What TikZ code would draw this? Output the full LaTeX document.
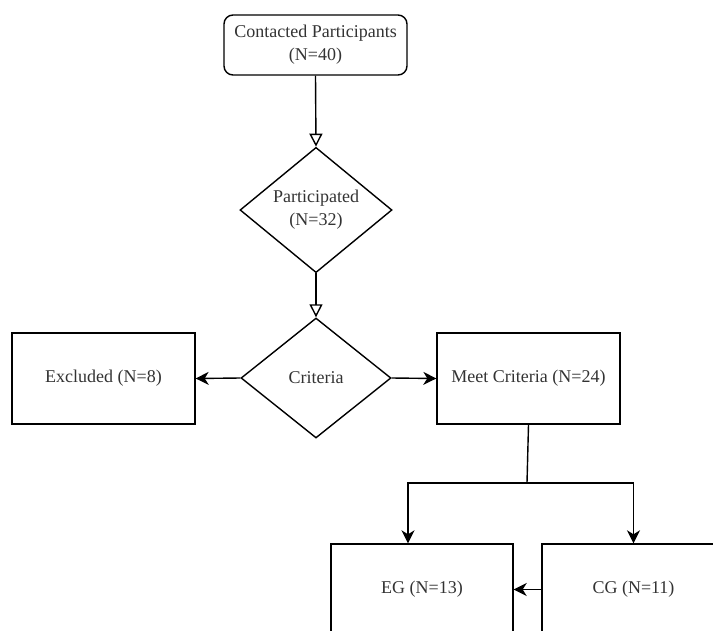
\documentclass[tikz,border=0pt]{standalone}
\usepackage{fontspec}
\setmainfont{Liberation Serif}
\usetikzlibrary{shapes.geometric,arrows.meta}

\begin{document}
\begin{tikzpicture}[x=1pt, y=-1pt, line width=1.4pt,
	every node/.style={font=\fontsize{18}{23}\selectfont, text=black!80, align=center},
	box/.style={draw, minimum width=183pt, minimum height=91pt, inner sep=0pt},
	decision/.style={draw, diamond, inner sep=0pt, minimum width=152pt, minimum height=120pt},
	openhead/.style={-{Triangle[open, width=13pt, length=13pt]}},
	solidhead/.style={-{Stealth[width=13pt, length=13pt, inset=4pt]}}]

	\useasboundingbox (0,0) rectangle (713,630);

	% Nodes
	\node[draw, rounded corners=9pt, minimum width=183pt, minimum height=60pt, inner sep=0pt] (contacted) at (315.5,45) {Contacted Participants\\(N=40)};
	\node[decision] (participated) at (316,210) {Participated\\(N=32)};
	\node[decision, minimum width=150pt] (criteria) at (316,378) {Criteria};
	\node[box] (excluded) at (103.5,378.5) {Excluded (N=8)};
	\node[box] (meet) at (528.5,378.5) {Meet Criteria (N=24)};
	\node[box, minimum width=182pt] (eg) at (422,589.5) {EG (N=13)};
	\node[box] (cg) at (633.5,589.5) {CG (N=11)};
	\coordinate (split) at (527,483);

	% Connectors
	\draw[openhead] (contacted.south) -- (participated.north);
	\draw[openhead] (participated.south) -- (criteria.north);
	\draw[solidhead] (criteria.west) -- (excluded.east);
	\draw[solidhead] (criteria.east) -- (meet.west);
	\draw (meet.south) -- (split);
	\draw[solidhead] (split) -| ([xshift=-14pt]eg.north);
	\draw[solidhead] (split) -| (cg.north);
	\draw[solidhead] (cg.west) -- (eg.east);

\end{tikzpicture}
\end{document}
